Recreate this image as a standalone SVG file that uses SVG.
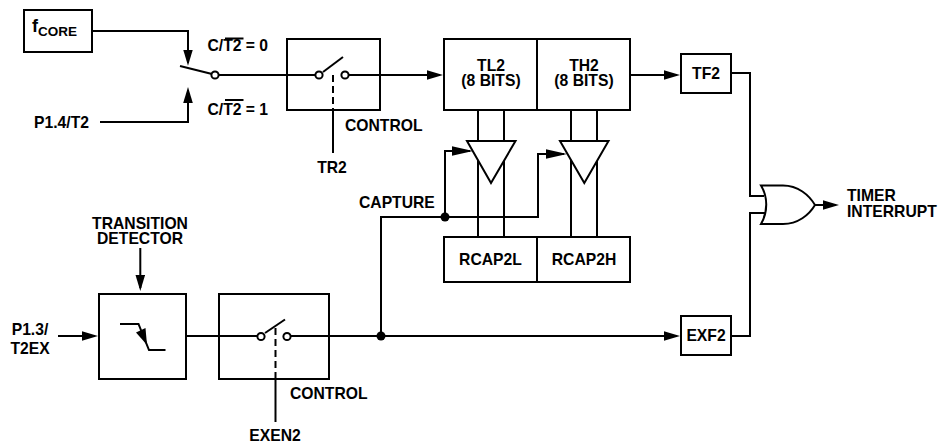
<svg xmlns="http://www.w3.org/2000/svg" width="939" height="446" viewBox="0 0 939 446">
<style>
text{font-family:"Liberation Sans",Arial,sans-serif;font-weight:700;font-size:15.7px;fill:#000}
.m{text-anchor:middle}
.b{fill:#fff;stroke:#000;stroke-width:2}
.w{fill:none;stroke:#000;stroke-width:2}
.c{fill:#fff;stroke:#000;stroke-width:2}
.d{fill:#000}
.a{marker-end:url(#arr)}
.s{font-size:13.500px}
.f{font-size:18px}
</style>
<defs>
<marker id="arr" markerUnits="userSpaceOnUse" markerWidth="16" markerHeight="10" refX="13" refY="5" orient="auto"><path d="M0 0.2L16 5L0 9.8z" fill="#000"/></marker>
</defs>
<g id="connectors">
<path class="w a" d="M92 31H188V62.700"/>
<path class="w a" d="M100 122H188V90"/>
<path class="w" d="M180 66L212 74"/>
<path class="w" d="M219 75H315"/>
<path class="w a" d="M349 75H440"/>
<path class="w" d="M333 75V110" stroke-dasharray="7 4"/>
<path class="w" d="M333 110V153"/>
<path class="w" d="M478 110V237M504 110V237M571 110V237M597 110V237"/>
<path class="w a" d="M630 75H677"/>
<path class="w" d="M731 73H750V196H764"/>
<path class="w" d="M731 336H750V213H766"/>
<path class="w a" d="M815 205H836"/>
<path class="w a" d="M58 336H95"/>
<path class="w a" d="M140.300 248V288"/>
<path class="w" d="M186 336H257"/>
<path class="w a" d="M291 336H677"/>
<path class="w" d="M275.500 328V379" stroke-dasharray="7 4"/>
<path class="w" d="M275.500 379V422"/>
<path class="w" d="M381 336V217H538V154H564"/>
<path class="w" d="M445 217V151H470"/>
</g>
<g id="node-fcore"><rect class="b" x="24" y="10" width="68" height="42"/><text class="f" x="32" y="32">f<tspan class="s" dy="4">CORE</tspan></text></g>
<g id="node-mux">
<circle class="c" cx="215" cy="75" r="3.600"/>
<text x="207.500" y="51">C/T2 = 0</text><path class="w" d="M225 38.500H243.500"/>
<text x="207.500" y="115">C/T2 = 1</text><path class="w" d="M225 100H243.500"/>
<text x="34" y="128">P1.4/T2</text>
</g>
<g id="node-tr2-switch">
<rect x="287" y="39" width="93" height="71" fill="none" stroke="#000" stroke-width="2"/>
<path class="w" d="M323 72L343 57"/>
<circle class="c" cx="319" cy="75" r="3.600"/><circle class="c" cx="345" cy="75" r="3.600"/>
<text x="345" y="131">CONTROL</text><text class="m" x="332" y="173">TR2</text>
</g>
<g id="node-tl2"><rect class="b" x="444" y="39" width="93" height="71"/><text class="m" x="491" y="71">TL2<tspan x="491" dy="15">(8 BITS)</tspan></text></g>
<g id="node-th2"><rect class="b" x="537" y="39" width="93" height="71"/><text class="m" x="584" y="71">TH2<tspan x="584" dy="15">(8 BITS)</tspan></text></g>
<g id="node-buffer-l"><path class="b" d="M467 141H515.500L491 183z"/></g>
<g id="node-buffer-h"><path class="b" d="M560 141H608.500L584.300 183z"/></g>
<g id="node-rcap2l"><rect class="b" x="444" y="237" width="93" height="45"/><text class="m" x="490.500" y="265">RCAP2L</text></g>
<g id="node-rcap2h"><rect class="b" x="537" y="237" width="93" height="45"/><text class="m" x="584" y="265">RCAP2H</text></g>
<g id="node-tf2"><rect class="b" x="681" y="54" width="50" height="39"/><text class="m" x="706" y="79">TF2</text></g>
<g id="node-exf2"><rect class="b" x="681" y="316" width="50" height="39"/><text class="m" x="706" y="341">EXF2</text></g>
<g id="node-or"><path class="b" d="M761 185.500H783C798 185.500 809 195 815 205C809 215 798 224 783 224H761C768 212 768 197 761 185.500z"/><text x="847" y="201">TIMER<tspan x="847" dy="15.500">INTERRUPT</tspan></text></g>
<g id="node-capture"><circle class="d" cx="445" cy="217" r="4.500"/><text x="359" y="208">CAPTURE</text></g>
<g id="node-junction"><circle class="d" cx="381" cy="336" r="4.500"/></g>
<g id="node-detector">
<rect class="b" x="99" y="294" width="87" height="85"/>
<path class="w" d="M120 324H138.500L149 350H165.500"/>
<path class="d" d="M147 345L136 332.500L145.500 328z"/>
<text class="m" x="140" y="229">TRANSITION<tspan x="140" dy="14.500">DETECTOR</tspan></text>
<text class="m" x="30" y="335">P1.3/</text><text class="m" x="30" y="354">T2EX</text>
</g>
<g id="node-exen2-switch">
<rect x="219" y="294" width="110" height="85" fill="none" stroke="#000" stroke-width="2"/>
<path class="w" d="M265 333L285 319.500"/>
<circle class="c" cx="261" cy="336.500" r="3.600"/><circle class="c" cx="287" cy="336.500" r="3.600"/>
<text x="290" y="399">CONTROL</text><text class="m" x="275" y="441">EXEN2</text>
</g>
<g id="capture-arrowheads"><path class="d" d="M452 146.200L473 151L452 155.800z"/><path class="d" d="M546 149.200L567 154L546 158.800z"/></g>
</svg>
